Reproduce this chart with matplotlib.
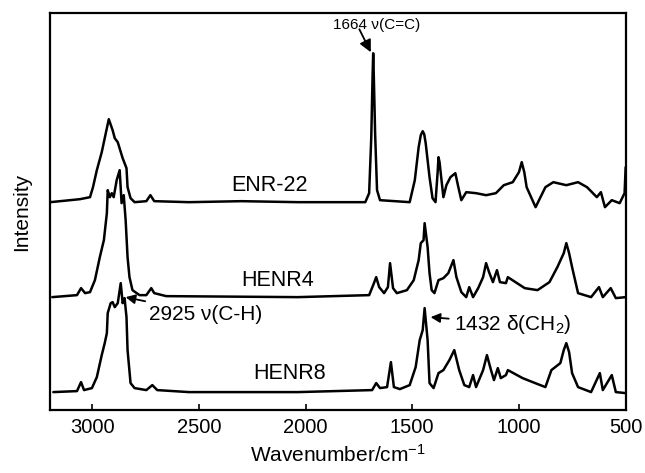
import matplotlib
matplotlib.use("Agg")
import matplotlib.pyplot as plt

plt.rcParams['font.family'] = ['Liberation Sans', 'DejaVu Sans']
plt.rcParams['mathtext.fontset'] = 'custom'
plt.rcParams['mathtext.rm'] = 'Liberation Sans'
plt.rcParams['mathtext.it'] = 'Liberation Sans:italic'

# ---- data (wavenumber, intensity above own baseline) ----
enr_wn = [3196, 3057, 3010, 2996, 2978, 2955, 2936, 2922, 2904, 2894, 2880, 2857, 2839, 2834,
          2820, 2801, 2746, 2727, 2709, 2546, 2300, 2036, 1720, 1702, 1692, 1686, 1683, 1680,
          1674, 1665, 1651, 1512, 1488, 1470, 1460, 1451, 1444, 1437, 1419, 1405, 1391, 1381,
          1377, 1372, 1368, 1354, 1340, 1321, 1298, 1284, 1270, 1247, 1201, 1154, 1108, 1071,
          1029, 1000, 987, 975, 964, 922, 876, 839, 778, 723, 681, 635, 616, 597, 565, 528,
          505, 500]
enr_int = [0, 3, 5, 15, 32, 50, 69, 83, 72, 64, 60, 44, 34, 15,
           4, 0, 1, 7, 1, 0, 1, 0, 0, 9, 65, 125, 149, 125,
           69, 12, 2, 0, 22, 55, 67, 71, 68, 59, 25, 4, 0, 30,
           45, 40, 32, 5, 17, 25, 29, 15, 2, 10, 9, 7, 9, 17,
           20, 30, 40, 30, 15, -5, 15, 20, 17, 20, 15, 5, 10, -5, 2, -1,
           9, 35]

henr4_wn = [3187, 3071, 3052, 3033, 3010, 2987, 2964, 2945, 2931, 2927, 2917, 2908, 2899, 2885,
            2871, 2862, 2852, 2843, 2834, 2825, 2811, 2778, 2746, 2723, 2709, 2653, 2036, 1702,
            1683, 1669, 1655, 1632, 1614, 1604, 1590, 1572, 1525, 1493, 1470, 1460, 1447, 1442,
            1428, 1419, 1409, 1396, 1377, 1354, 1331, 1307, 1293, 1270, 1247, 1233, 1215, 1191,
            1168, 1154, 1140, 1122, 1103, 1089, 1061, 1052, 973, 913, 857, 820, 790, 778, 765,
            751, 723, 662, 625, 607, 570, 546, 500]
henr4_int = [0, 2, 9, 4, 5, 17, 40, 57, 84, 107, 100, 104, 100, 117,
             127, 94, 102, 77, 40, 20, 7, 2, 2, 9, 4, 1, 0, 2,
             12, 20, 10, 4, 10, 34, 9, 4, 7, 17, 37, 54, 57, 74,
             50, 24, 7, 4, 17, 19, 24, 37, 20, 5, 0, 10, 0, 9,
             20, 34, 25, 15, 27, 15, 14, 20, 9, 7, 15, 30, 44, 54, 44,
             30, 4, 0, 10, 0, 9, -1, 0]

henr8_wn = [3182, 3071, 3052, 3038, 3001, 2978, 2955, 2941, 2931, 2927, 2913, 2904, 2894, 2880,
            2866, 2857, 2848, 2839, 2834, 2820, 2801, 2746, 2718, 2695, 2546, 2036, 1688, 1669,
            1651, 1618, 1600, 1586, 1558, 1512, 1484, 1465, 1451, 1442, 1428, 1419, 1400, 1377,
            1354, 1326, 1303, 1280, 1256, 1233, 1215, 1201, 1168, 1150, 1131, 1117, 1099, 1085,
            1061, 1052, 983, 936, 876, 848, 806, 790, 778, 765, 751, 723, 662, 621, 607, 565,
            546, 500]
henr8_int = [0, 1, 10, 2, 4, 15, 37, 49, 59, 79, 89, 90, 85, 89,
             109, 89, 94, 75, 42, 9, 4, 2, 7, 2, 0, 0, 2, 9,
             4, 5, 30, 5, 3, 7, 25, 52, 62, 84, 52, 9, 4, 19,
             22, 32, 42, 22, 7, 5, 17, 5, 22, 37, 22, 12, 24, 14,
             17, 22, 14, 10, 5, 22, 29, 42, 49, 40, 19, 5, 0, 19, 2, 17,
             0, -1]

names = ['ENR-22', 'HENR4', 'HENR8']
offsets = [208, 113, 18]
xticks = [3000, 2500, 2000, 1500, 1000, 500]

# ---- figure ----
fig = plt.figure(figsize=(6.45, 4.73), dpi=100)
ax = fig.add_axes([0.078, 0.133, 0.892, 0.839])

for wn, it, off in zip([enr_wn, henr4_wn, henr8_wn], [enr_int, henr4_int, henr8_int], offsets):
    ax.plot(wn, [v + off for v in it], color='black', lw=1.8,
            solid_joinstyle='round', solid_capstyle='round')

ax.set_xlim(3196, 500)
ax.set_ylim(0, 397)
ax.set_xticks(xticks)
ax.set_xticklabels([str(t) for t in xticks])
ax.set_yticks([])
ax.tick_params(axis='x', labelsize=14.5, direction='in', length=4, width=1.2, pad=6)
for s in ax.spines.values():
    s.set_linewidth(1.6)

ax.set_xlabel('Wavenumber/cm$^{-1}$', fontsize=15, labelpad=5)
ax.set_ylabel('Intensity', fontsize=15, labelpad=14)

# trace labels
label_pos = [(2170, 225), (2129, 130), (2073, 37)]
for name, (x, y) in zip(names, label_pos):
    ax.text(x, y, name, fontsize=15.5, ha='center', va='center')

# annotations
ax.text(1665, 385, '1664 \u03bd(C=C)', fontsize=11, ha='center', va='center')
ax.annotate('', xy=(1694, 358), xytext=(1748, 381),
            arrowprops=dict(arrowstyle='-|>', color='black', lw=1.3, mutation_scale=18,
                            shrinkA=0, shrinkB=0))
ax.annotate('2925 \u03bd(C-H)', xy=(2843, 113), xytext=(2732, 96), fontsize=15,
            ha='left', va='center',
            arrowprops=dict(arrowstyle='-|>', color='black', lw=1.3, mutation_scale=14,
                            shrinkA=2, shrinkB=0))
ax.annotate('1432 \u03b4(CH$_2$)', xy=(1414, 93), xytext=(1303, 86), fontsize=15,
            ha='left', va='center',
            arrowprops=dict(arrowstyle='-|>', color='black', lw=1.3, mutation_scale=14,
                            shrinkA=2, shrinkB=0))

fig.savefig('out.png', dpi=100)
